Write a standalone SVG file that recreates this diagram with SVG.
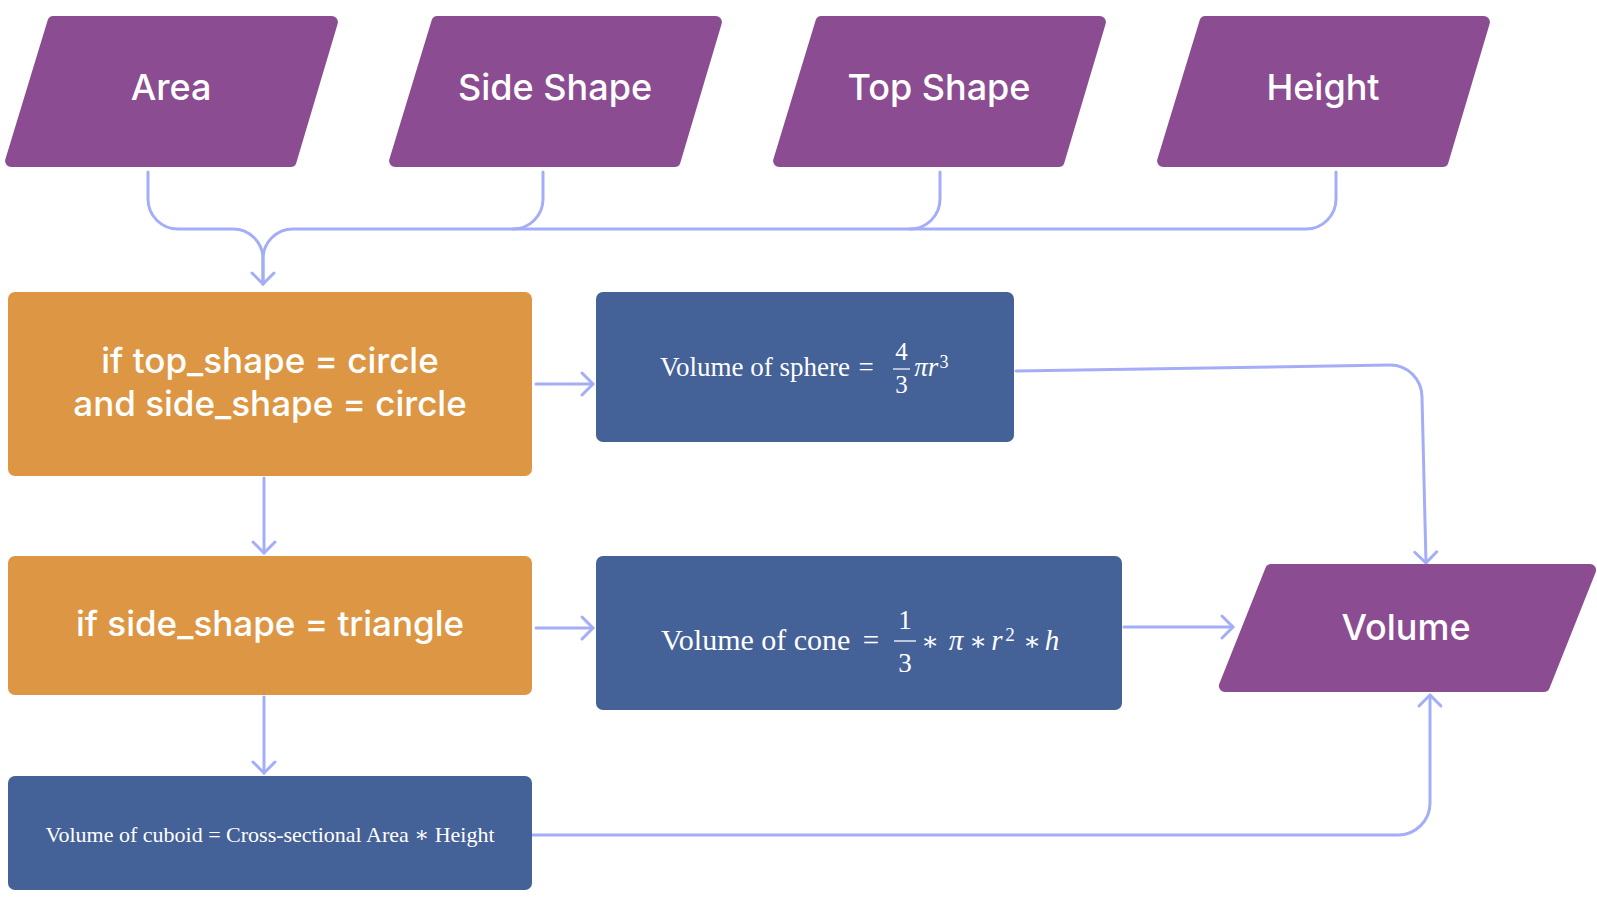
<svg xmlns="http://www.w3.org/2000/svg" width="1597" height="916" viewBox="0 0 1597 916">
<style>
.io{fill:#8b4c92;stroke:#8b4c92;stroke-width:12;stroke-linejoin:round}
.dec{fill:#dd9744}
.proc{fill:#446198}
.lbl{font-family:Inter,"Open Sans","Liberation Sans",sans-serif;font-size:36px;font-weight:500;fill:#ffffff;text-anchor:middle}
.dl{font-size:35px}
.math{font-family:"Liberation Serif","DejaVu Serif",serif;fill:#ffffff;text-anchor:middle}
.conn{fill:none;stroke:#a4aef8;stroke-width:3;stroke-linecap:round;stroke-linejoin:round}
</style>
<defs>
<marker id="arr" markerUnits="userSpaceOnUse" markerWidth="30" markerHeight="30" refX="0" refY="0" orient="auto" viewBox="-15 -15 30 30" overflow="visible">
<path d="M-11,-11 L0,0 L-11,11" fill="none" stroke="#a4aef8" stroke-width="3" stroke-linecap="round" stroke-linejoin="round"/>
</marker>
<polygon id="para" points="53.4,22 331.9,22 290.6,161 11.1,161"/>
</defs>
<rect width="1597" height="916" fill="#ffffff"/>

<g id="connectors">
<path class="conn" d="M1336,172 V199 A30,30 0 0 1 1306,229 H910"/>
<path class="conn" d="M940,172 V199 A30,30 0 0 1 910,229 H513"/>
<path class="conn" d="M543,172 V199 A30,30 0 0 1 513,229 H293 A30,30 0 0 0 263,259 V284"/>
<path class="conn" d="M148,172 V199 A30,30 0 0 0 178,229 H233 A30,30 0 0 1 263,259 V284" marker-end="url(#arr)"/>
<path class="conn" d="M536,384 H593" marker-end="url(#arr)"/>
<path class="conn" d="M536,628 H593" marker-end="url(#arr)"/>
<path class="conn" d="M264,478 V553" marker-end="url(#arr)"/>
<path class="conn" d="M264,697 V773" marker-end="url(#arr)"/>
<path class="conn" d="M1016,371 L1390,365 A32,32 0 0 1 1422,397 L1426,563" marker-end="url(#arr)"/>
<path class="conn" d="M1124,627 H1233" marker-end="url(#arr)"/>
<path class="conn" d="M532,835 H1398 A32,32 0 0 0 1430,803 V695" marker-end="url(#arr)"/>
</g>

<g id="area">
<use href="#para" class="io"/>
<text class="lbl" x="171" y="100">Area</text>
</g>
<g id="side-shape">
<use href="#para" class="io" transform="translate(384,0)"/>
<text class="lbl" x="555" y="100">Side Shape</text>
</g>
<g id="top-shape">
<use href="#para" class="io" transform="translate(768,0)"/>
<text class="lbl" x="939" y="100">Top Shape</text>
</g>
<g id="height">
<use href="#para" class="io" transform="translate(1152,0)"/>
<text class="lbl" x="1323" y="100">Height</text>
</g>

<g id="cond-sphere">
<rect class="dec" x="8" y="292" width="524" height="184" rx="7"/>
<text class="lbl dl" x="270" y="373">if top_shape = circle</text>
<text class="lbl dl" x="270" y="416">and side_shape = circle</text>
</g>

<g id="cond-cone">
<rect class="dec" x="8" y="556" width="524" height="139" rx="7"/>
<text class="lbl dl" x="270" y="636">if side_shape = triangle</text>
</g>

<g id="sphere">
<rect class="proc" x="596" y="292" width="418" height="150" rx="7"/>
<text class="math" x="660" y="376" font-size="27" style="text-anchor:start">Volume of sphere</text>
<text class="math" x="866" y="376" font-size="27">=</text>
<text class="math" x="901.5" y="360" font-size="25">4</text>
<line x1="893" y1="369" x2="910" y2="369" stroke="#ffffff" stroke-width="1.2"/>
<text class="math" x="901.5" y="393" font-size="25">3</text>
<text class="math" x="921" y="376" font-size="27" font-style="italic">π</text>
<text class="math" x="933" y="376" font-size="27" font-style="italic">r</text>
<text class="math" x="944" y="368" font-size="18">3</text>
</g>

<g id="cone">
<rect class="proc" x="596" y="556" width="526" height="154" rx="7"/>
<text class="math" x="661" y="650" font-size="30" style="text-anchor:start">Volume of cone</text>
<text class="math" x="871" y="650" font-size="29">=</text>
<text class="math" x="905" y="629" font-size="27">1</text>
<line x1="894" y1="641" x2="916" y2="641" stroke="#ffffff" stroke-width="1.3"/>
<text class="math" x="905" y="672" font-size="27">3</text>
<text class="math" x="930" y="650" font-size="26">∗</text>
<text class="math" x="956" y="650" font-size="29" font-style="italic">π</text>
<text class="math" x="978" y="650" font-size="26">∗</text>
<text class="math" x="997" y="650" font-size="29" font-style="italic">r</text>
<text class="math" x="1010" y="641" font-size="19">2</text>
<text class="math" x="1032" y="650" font-size="26">∗</text>
<text class="math" x="1052" y="650" font-size="29" font-style="italic">h</text>
</g>

<g id="cuboid">
<rect class="proc" x="8" y="776" width="524" height="114" rx="7"/>
<text class="math" x="270" y="842" font-size="22">Volume of cuboid = Cross-sectional Area ∗ Height</text>
</g>

<g id="volume">
<polygon class="io" points="1271.1,570 1590.1,570 1543.9,686 1224.9,686"/>
<text class="lbl" x="1406" y="640">Volume</text>
</g>
</svg>
